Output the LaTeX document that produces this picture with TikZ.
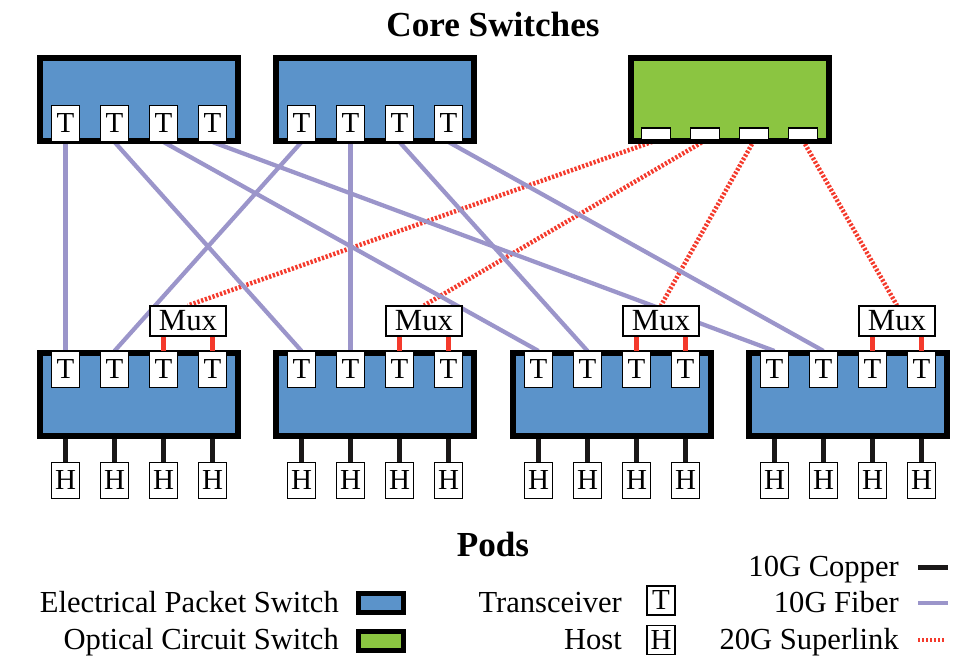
\documentclass[tikz,border=0pt]{standalone}
\usepackage{fontspec}
\setmainfont{Liberation Serif}
\usetikzlibrary{backgrounds}
\definecolor{epsblue}{RGB}{91,147,202}
\definecolor{ocsgreen}{RGB}{139,197,65}
\definecolor{fibercol}{RGB}{155,149,202}
\definecolor{superred}{RGB}{244,58,44}
\definecolor{coppercol}{RGB}{26,24,24}
\begin{document}
\begin{tikzpicture}[x=0.2mm, y=-0.2mm]

      \tikzset{eps/.style={draw=black, line width=1.2mm, fill=epsblue, minimum width=39.6mm, minimum height=16.6mm, inner sep=0pt},
               ocs/.style={eps, fill=ocsgreen},
               trans/.style={draw=black, line width=0.6pt, fill=white, minimum width=5.6mm, minimum height=7.2mm, inner sep=0pt, font=\fontsize{16.5}{18}\selectfont},
               port/.style={draw=black, line width=0.6pt, fill=white, minimum width=5.8mm, minimum height=2.4mm, inner sep=0pt},
               muxbox/.style={trans, minimum width=15.2mm, minimum height=6mm, font=\fontsize{17.5}{19}\selectfont},
               fiber/.style={draw=fibercol, line width=0.85mm},
               copper/.style={draw=coppercol, line width=1mm},
               mlink/.style={draw=superred, line width=0.9mm},
               superlink/.style={draw=superred, line width=0.9mm, dash pattern=on 0.45mm off 0.35mm},
               caption/.style={anchor=base east, font=\fontsize{17.4}{19}\selectfont},
               heading/.style={anchor=base, font=\bfseries\fontsize{20}{22}\selectfont}}
      \useasboundingbox (0,0) rectangle (969,671);

%% Core switches
      \node[heading] (core) at (493,37) {Core Switches};
      \foreach \s/\x in {c1/139, c2/375} {
          \node[eps] (\s) at (\x,99.5) {};
          \foreach \i/\d in {1/-73.5, 2/-24.5, 3/24.5, 4/73.5}
              \node[trans] (\s-t\i) at (\x+\d,123.5) {T};
      }
      \node[ocs] (ocs) at (729.5,99.5) {};
      \foreach \i/\d in {1/-73.5, 2/-24.5, 3/24.5, 4/73.5}
          \node[port] (o\i) at (729.5+\d,134) {};

%% Pods
      \foreach \k/\x in {1/139, 2/375, 3/612, 4/848} {
          \node[eps] (p\k) at (\x,394.5) {};
          \foreach \i/\d in {1/-73.5, 2/-24.5, 3/24.5, 4/73.5} {
              \node[trans] (p\k-t\i) at (\x+\d,369.5) {T};
              \node[trans] (p\k-h\i) at (\x+\d,480.5) {H};
              \draw[copper] (p\k-h\i |- p\k.south) -- (p\k-h\i.north);
          }
          \node[muxbox] (m\k) at (\x+49,321) {Mux};
          \draw[mlink] (p\k-t3 |- m\k.south) -- (p\k-t3.north);
          \draw[mlink] (p\k-t4 |- m\k.south) -- (p\k-t4.north);
      }
      \node[heading] (pods) at (493,557) {Pods};

%Links
      \begin{scope}[on background layer]
          \foreach \i in {1,...,4} {
              \draw[fiber] (c1-t\i.south) -- (p\i-t1.north);
              \draw[fiber] (c2-t\i.south) -- (p\i-t2.north);
              \draw[superlink] (o\i.south) -- (m\i.north);
          }
      \end{scope}

%Legend
      \node[caption] (leps) at (345,613) {Electrical Packet Switch};
      \node[caption] (locs) at (345,650) {Optical Circuit Switch};
      \node[eps, minimum width=9mm, minimum height=3.8mm, line width=1mm] (keps) at (381,603) {};
      \node[ocs, minimum width=9mm, minimum height=3.8mm, line width=1mm] (kocs) at (381,641) {};
      \node[caption] (ltrans) at (628,613) {Transceiver};
      \node[caption] (lhost) at (628,650) {Host};
      \node[trans, minimum height=5.8mm] (ktrans) at (661,600.5) {T};
      \node[trans, minimum height=5.8mm] (khost) at (661,640) {H};
      \node[caption] (lcopper) at (905,577) {10G Copper};
      \node[caption] (lfiber) at (905,613) {10G Fiber};
      \node[caption] (lsuper) at (905,650) {20G Superlink};
      \coordinate (a1) at (918,568); \coordinate (b1) at (948,568);
      \coordinate (a2) at (918,603); \coordinate (b2) at (948,603);
      \coordinate (a3) at (918,640); \coordinate (b3) at (946,640);
      \draw[copper] (a1) -- (b1);
      \draw[fiber] (a2) -- (b2);
      \draw[superlink] (a3) -- (b3);

\end{tikzpicture}
\end{document}
